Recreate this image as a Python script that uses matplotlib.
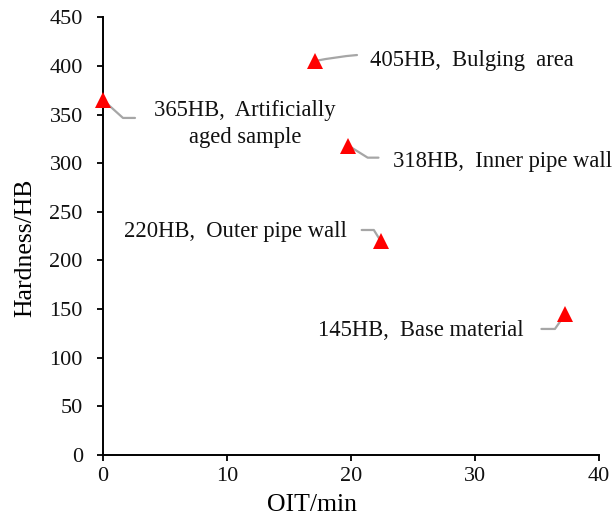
import matplotlib
matplotlib.use("Agg")
import matplotlib.pyplot as plt

# Oxidation induction time vs. Brinell hardness for each sample location
oit_min = [0.0, 17.1, 19.8, 22.4, 37.3]
hardness_hb = [365, 405, 318, 220, 145]
labels = [
    "365HB,  Artificially\naged sample",
    "405HB,  Bulging  area",
    "318HB,  Inner pipe wall",
    "220HB,  Outer pipe wall",
    "145HB,  Base material",
]
x_ticks = [0, 10, 20, 30, 40]
y_ticks = [0, 50, 100, 150, 200, 250, 300, 350, 400, 450]

plt.rcParams["font.family"] = ["Liberation Serif", "DejaVu Serif"]

fig = plt.figure(figsize=(6.13, 5.15), dpi=100)
ax = fig.add_axes([0.168, 0.1165, 0.809, 0.85])

ax.plot(oit_min, hardness_hb, linestyle="none", marker="^", markersize=12,
        color="#ff0000", markeredgewidth=0, zorder=3, clip_on=False)

# leader layout per label: text offset, text alignment, elbow offset, elbow angle (pixels)
px = 0.72
layout = [
    dict(text=(142, -24), ha="center", elbow=(32, -18), angB=138),
    dict(text=(55, 1), ha="left", elbow=(42, 6), angB=None),
    dict(text=(45, -16), ha="left", elbow=(30, -12), angB=148),
    dict(text=(-34, 9), ha="right", elbow=(-19, 11), angB=122),
    dict(text=(-42, -17), ha="right", elbow=(-24, -15), angB=55),
]

for x, y, lab, lay in zip(oit_min, hardness_hb, labels, layout):
    tx, ty = lay["text"]
    ax.annotate(lab, xy=(x, y), xytext=(tx * px, ty * px), textcoords="offset points",
                ha=lay["ha"], va="center", multialignment="center",
                fontsize=16.3, color="#111111", linespacing=1.42)
    ex, ey = lay["elbow"]
    if lay["angB"] is None:
        cs = "arc3,rad=0.03"
    else:
        cs = f"angle,angleA=0,angleB={lay['angB']},rad=0"
    ax.annotate("", xy=(x, y), xytext=(ex * px, ey * px), textcoords="offset points",
                arrowprops=dict(arrowstyle="-", color="#a6a6a6", lw=1.6,
                                connectionstyle=cs, shrinkA=0, shrinkB=0),
                zorder=2)

ax.set_xlim(0, 40)
ax.set_ylim(0, 450)
ax.set_xticks(x_ticks)
ax.set_yticks(y_ticks)
ax.spines["top"].set_visible(False)
ax.spines["right"].set_visible(False)
for s in ("left", "bottom"):
    ax.spines[s].set_linewidth(1.4)
ax.tick_params(direction="out", length=4.5, width=1.4, labelsize=16, colors="#111111")
ax.tick_params(axis="y", pad=10)
ax.tick_params(axis="x", pad=4)
ax.set_xlabel("OIT/min", fontsize=18.5)
ax.set_ylabel("Hardness/HB", fontsize=18.5)
ax.xaxis.set_label_coords(0.422, -0.09)
ax.yaxis.set_label_coords(-0.135, 0.473)

fig.savefig("out.png", dpi=100)
